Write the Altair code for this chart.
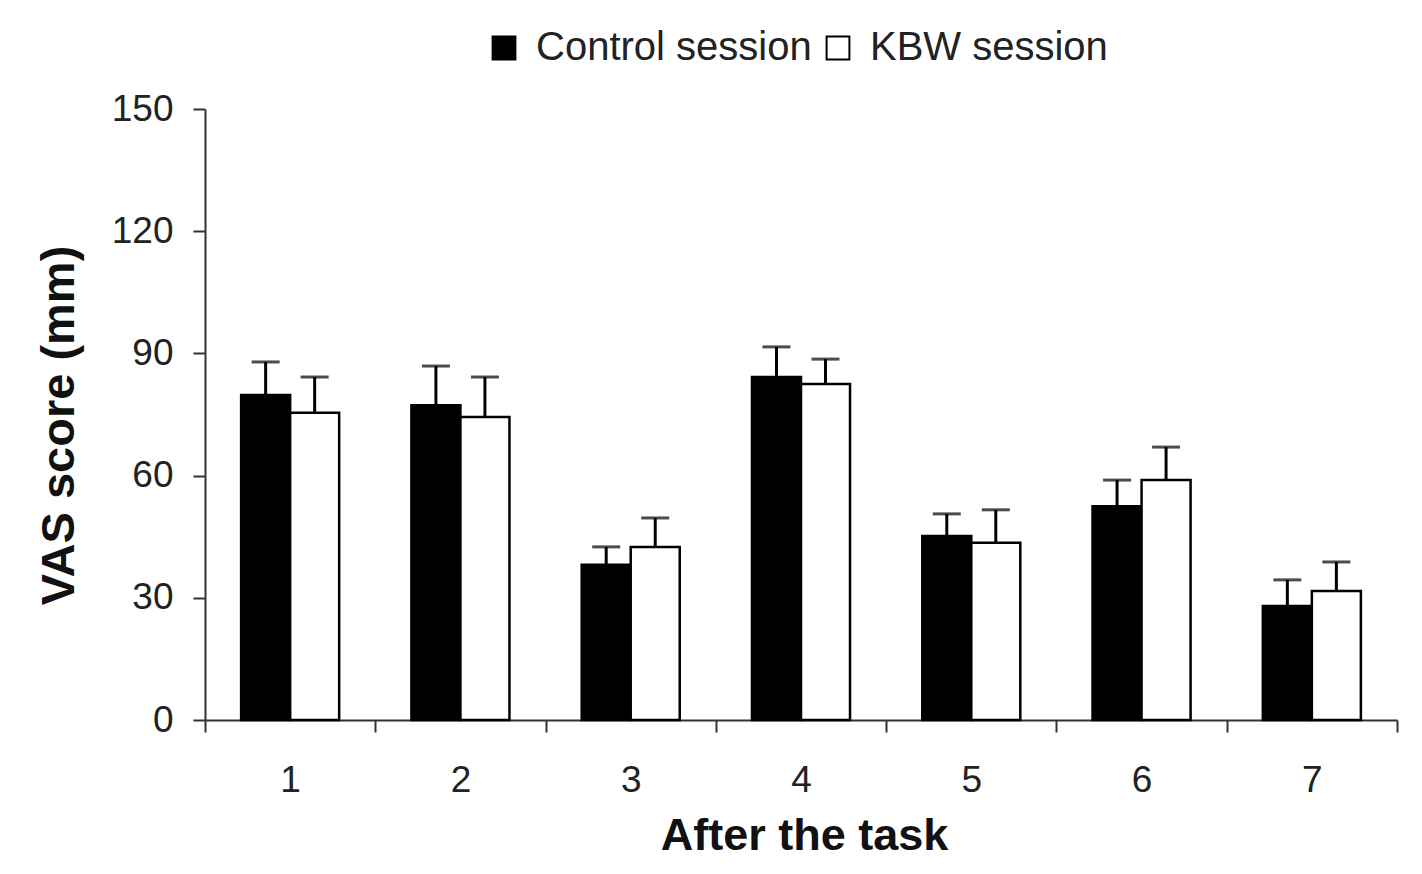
import altair as alt
import pandas as pd

tasks = ["1", "2", "3", "4", "5", "6", "7"]
sessions = ["Control session", "KBW session"]
control_mean = [79.8, 77.3, 38.1, 84.2, 45.2, 52.5, 28.0]
control_sem = [8.1, 9.6, 4.4, 7.4, 5.4, 6.4, 6.4]
kbw_mean = [75.4, 74.4, 42.5, 82.5, 43.5, 58.9, 31.7]
kbw_sem = [8.8, 9.8, 7.1, 6.1, 8.1, 8.1, 7.1]
y_ticks = [0, 30, 60, 90, 120, 150]

rows = []
for t, m, s in zip(tasks, control_mean, control_sem):
    rows.append({"task": t, "session": sessions[0], "mean": m, "upper": m + s})
for t, m, s in zip(tasks, kbw_mean, kbw_sem):
    rows.append({"task": t, "session": sessions[1], "mean": m, "upper": m + s})
df = pd.DataFrame(rows)

FONT = "Liberation Sans"
TXT = "#222222"

x_scale = alt.Scale(paddingInner=0, paddingOuter=0)
x_enc = alt.X(
    "task:N",
    sort=tasks,
    scale=x_scale,
    axis=alt.Axis(
        title="After the task",
        labelAngle=0,
        tickBand="extent",
        tickSize=12,
        tickWidth=2,
        tickColor="#333333",
        domainColor="#333333",
        domainWidth=2,
        labelFont=FONT,
        labelFontSize=37,
        labelColor=TXT,
        labelPadding=30,
        titleFont=FONT,
        titleFontSize=45,
        titleFontWeight="bold",
        titleColor="#111111",
        titleX=599,
        titleY=129,
        titleBaseline="alphabetic",
    ),
)
xoff = alt.XOffset("session:N", sort=sessions, scale=alt.Scale(paddingInner=0, paddingOuter=0.737))
y_scale = alt.Scale(domain=[0, 150], nice=False)

bars = alt.Chart(df).mark_bar(stroke="black", strokeWidth=2.5).encode(
    x=x_enc,
    xOffset=xoff,
    y=alt.Y(
        "mean:Q",
        scale=y_scale,
        axis=alt.Axis(
            title="VAS score (mm)",
            values=y_ticks,
            grid=False,
            tickSize=12,
            tickWidth=2,
            tickColor="#333333",
            domainColor="#333333",
            domainWidth=2,
            labelFont=FONT,
            labelFontSize=37,
            labelColor=TXT,
            labelPadding=20,
            titleFont=FONT,
            titleFontSize=47,
            titleFontWeight="bold",
            titleColor="#111111",
            titleX=-132,
            titleY=316,
            titleBaseline="alphabetic",
        ),
    ),
    fill=alt.Fill(
        "session:N",
        sort=sessions,
        scale=alt.Scale(domain=sessions, range=["black", "white"]),
        legend=alt.Legend(
            title=None,
            orient="none",
            direction="horizontal",
            legendX=279,
            legendY=-81,
            symbolType="square",
            symbolSize=520,
            symbolStrokeColor="black",
            symbolStrokeWidth=2,
            labelFont=FONT,
            labelFontSize=40,
            labelColor=TXT,
            labelLimit=1000,
            labelOffset=12,
            columnPadding=6,
            padding=0,
        ),
    ),
)

err = alt.Chart(df).mark_rule(color="black", strokeWidth=3).encode(
    x=alt.X("task:N", sort=tasks, scale=x_scale),
    xOffset=xoff,
    y=alt.Y("mean:Q", scale=y_scale),
    y2="upper:Q",
)

cap = alt.Chart(df).mark_tick(color="black", thickness=3, size=28).encode(
    x=alt.X("task:N", sort=tasks, scale=x_scale),
    xOffset=xoff,
    y=alt.Y("upper:Q", scale=y_scale),
)

chart = (
    alt.layer(bars, err, cap)
    .properties(
        width=1192,
        height=611,
        autosize=alt.AutoSizeParams(type="none"),
        padding={"left": 197, "top": 101, "right": 17, "bottom": 146},
        background="white",
    )
    .configure_view(stroke=None)
)

chart.save("out.html", embed_options={"renderer": "svg", "actions": False})
